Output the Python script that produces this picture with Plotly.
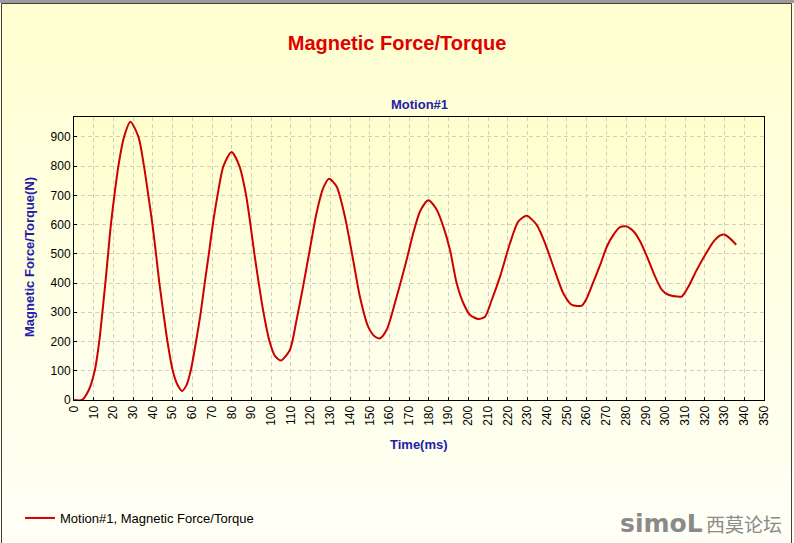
import base64
import plotly.graph_objects as go

# ---- data ----
time_ms = [0, 4, 7.5, 10.5, 12.8, 14.4, 15.9, 17.3, 18.7, 20.5, 22.5, 25.4, 28.6,
           32.7, 35.5, 37.7, 39.8, 41.6, 43.3, 45.3, 47.4, 50.1, 52.5, 54.8, 57.0,
           59.2, 61.9, 64.3, 66.3, 68.4, 70.4, 72.8, 75.8, 79.9,
           83.9, 87.3, 89.5, 91.5, 93.7, 96.1, 99.2, 102.0, 105.0,
           109.5, 112.9, 116.2, 119.6, 123.0, 126.4, 129.4,
           133.2, 137.4, 141.6, 145.0, 149.2, 152.6, 155.2,
           158.6, 163.7, 168.7, 172.1, 175.5, 179.7,
           184.0, 187.3, 190.7, 194.1, 197.5, 200.9, 205.1,
           208.5, 211.9, 216.1, 221.2, 225.4, 229.6,
           234.7, 238.9, 244.0, 248.2, 252.5, 257.6,
           260.1, 263.5, 266.9, 270.3, 273.6, 277.0, 279.9,
           283.8, 287.2, 290.6, 294.8, 298.2, 301.5, 305.8, 308.3,
           311.7, 315.9, 320.2, 324.4, 327.8, 329.8, 332.0, 335.9]
force_n = [0, 0, 34, 100, 200, 300, 400, 500, 600, 700, 800, 900, 952,
           900, 800, 700, 600, 500, 400, 300, 200, 100, 52, 31, 50,
           100, 200, 300, 400, 500, 600, 700, 800, 848,
           800, 700, 600, 500, 400, 300, 200, 150, 135,
           171, 274, 388, 514, 639, 725, 757,
           730, 628, 479, 354, 251, 217, 211,
           240, 354, 479, 571, 645, 683,
           651, 594, 514, 400, 331, 291, 277,
           285, 342, 422, 537, 611, 630,
           599, 537, 440, 365, 325, 323,
           348, 405, 462, 525, 565, 591, 594,
           577, 542, 491, 422, 377, 360, 354, 354,
           388, 445, 497, 542, 563, 566, 557, 531]

x_ticks = list(range(0, 351, 10))
y_ticks = list(range(0, 901, 100))

title_text = "Magnetic Force/Torque"
subtitle_text = "Motion#1"
x_title = "Time(ms)"
y_title = "Magnetic Force/Torque(N)"
legend_name = "Motion#1, Magnetic Force/Torque"
watermark_latin = "simoL"
watermark_cjk = "西莫论坛"

# ---- layout constants ----
W, H = 794, 543
ML, MR, MT, MB = 74, 30, 117, 143
PW, PH = W - ML - MR, H - MT - MB

BLUE = "#2020AA"
RED_LINE = "#CC0000"
FONT = "Liberation Sans, Arial, sans-serif"


def grad_uri(top, bottom):
    svg = ("<svg xmlns='http://www.w3.org/2000/svg' width='10' height='100' "
           "preserveAspectRatio='none' viewBox='0 0 10 100'>"
           "<defs><linearGradient id='g' x1='0' y1='0' x2='0' y2='1'>"
           f"<stop offset='0' stop-color='{top}'/>"
           f"<stop offset='1' stop-color='{bottom}'/>"
           "</linearGradient></defs>"
           "<rect width='10' height='100' fill='url(#g)'/></svg>")
    return "data:image/svg+xml;base64," + base64.b64encode(svg.encode()).decode()


def px_x(p):
    return (p - ML) / PW


def px_y(p):
    return (H - MB - p) / PH


fig = go.Figure()
fig.add_trace(go.Scatter(
    x=time_ms, y=force_n, mode="lines", name=legend_name,
    line=dict(color=RED_LINE, width=2, shape="spline", smoothing=0.7),
    showlegend=True,
))

fig.update_layout(
    width=W, height=H,
    margin=dict(l=ML, r=MR, t=MT, b=MB, autoexpand=False),
    paper_bgcolor="white",
    plot_bgcolor="rgba(0,0,0,0)",
    font=dict(family=FONT, size=12, color="black"),
    title=dict(text=f"<b>{title_text}</b>", x=0.5, xanchor="center",
               xref="container", y=1 - 43 / H, yref="container", yanchor="middle",
               font=dict(size=20, color="#E00000", family=FONT)),
    showlegend=True,
    legend=dict(x=20 / W, xref="container", y=25 / H, yref="container",
                xanchor="left", yanchor="middle", orientation="h",
                bgcolor="rgba(0,0,0,0)", font=dict(size=13, color="black")),
    images=[
        dict(source=grad_uri("rgb(255,255,208)", "rgb(255,255,246)"),
             xref="paper", yref="paper", x=px_x(0), y=px_y(0),
             sizex=W / PW, sizey=H / PH, sizing="stretch",
             xanchor="left", yanchor="top", layer="below"),
        dict(source=grad_uri("rgb(255,255,204)", "rgb(255,255,240)"),
             xref="paper", yref="paper", x=0, y=1, sizex=1, sizey=1,
             sizing="stretch", xanchor="left", yanchor="top", layer="below"),
    ],
)

fig.update_xaxes(
    range=[0, 350], tickmode="array", tickvals=x_ticks,
    ticktext=[str(v) for v in x_ticks], tickangle=-90,
    ticks="inside", ticklen=3, tickcolor="black",
    showgrid=True, gridcolor="#CFCFC4", griddash="4px,3px", gridwidth=1,
    showline=True, linecolor="black", linewidth=1, mirror=True,
    zeroline=False, tickfont=dict(size=12, color="black"),
)
fig.update_yaxes(
    range=[0, 968], tickmode="array", tickvals=y_ticks,
    ticktext=[str(v) for v in y_ticks],
    ticks="inside", ticklen=3, tickcolor="black",
    showgrid=True, gridcolor="#CFCFC4", griddash="4px,3px", gridwidth=1,
    showline=True, linecolor="black", linewidth=1, mirror=True,
    zeroline=False, tickfont=dict(size=12, color="black"),
)

annotations = [
    dict(text=f"<b>{subtitle_text}</b>", x=0.5, y=px_y(105), xref="paper", yref="paper",
         showarrow=False, xanchor="center", yanchor="middle",
         font=dict(size=13, color=BLUE, family=FONT)),
    dict(text=f"<b>{x_title}</b>", x=0.5, y=px_y(444), xref="paper", yref="paper",
         showarrow=False, xanchor="center", yanchor="middle",
         font=dict(size=13, color=BLUE, family=FONT)),
    dict(text=f"<b>{y_title}</b>", x=px_x(29), y=px_y(257), xref="paper", yref="paper",
         showarrow=False, xanchor="center", yanchor="middle", textangle=-90,
         font=dict(size=13, color=BLUE, family=FONT)),
    dict(text=f"<b>{watermark_latin}</b>", x=px_x(705), y=px_y(523), xref="paper", yref="paper",
         showarrow=False, xanchor="right", yanchor="middle",
         font=dict(size=25, color="#8A8A8A", family="DejaVu Sans, sans-serif")),
    dict(text=watermark_cjk, x=px_x(784), y=px_y(523), xref="paper", yref="paper",
         showarrow=False, xanchor="right", yanchor="middle",
         font=dict(size=19, color="#8A8A8A", family="Noto Sans CJK SC, sans-serif")),
]
fig.update_layout(annotations=annotations)

shapes = [
    dict(type="rect", xref="paper", yref="paper",
         x0=px_x(0), x1=px_x(W), y0=px_y(0), y1=px_y(3),
         fillcolor="#9C9C9C", line=dict(width=0), layer="above"),
    dict(type="rect", xref="paper", yref="paper",
         x0=px_x(1.5), x1=px_x(791.5), y0=px_y(3.5), y1=px_y(H + 5),
         fillcolor="rgba(0,0,0,0)", line=dict(color="#404040", width=1), layer="above"),
]
fig.update_layout(shapes=shapes)

fig.write_html("out.html")
